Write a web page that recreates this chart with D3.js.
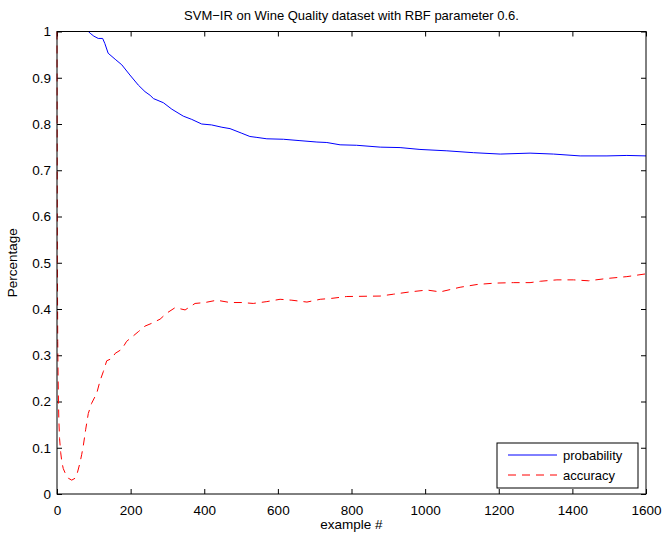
<!DOCTYPE html>
<html>
  <head>
    <meta charset="UTF-8">
    <title>SVM-IR on Wine Quality</title>
    <script src="https://d3js.org/d3.v7.min.js"></script>
    <style>
      body { margin: 0; background: #fff; }
      text { font-family: "Liberation Sans", Arial, sans-serif; }
    </style>
  </head>
  <body>
    <svg width="667" height="536"></svg>
    <script>
      // data: [example #, value]
      var probability = [
        [0, 1], [85, 1], [92, 0.995], [100, 0.99], [112, 0.985], [124, 0.985], [130, 0.974],
        [139, 0.953], [158, 0.94], [176, 0.928], [198, 0.906], [221, 0.884], [239, 0.87],
        [253, 0.862], [262, 0.855], [289, 0.846], [312, 0.832], [343, 0.817], [366, 0.81],
        [393, 0.8], [420, 0.798], [448, 0.793], [470, 0.79], [502, 0.78], [524, 0.773],
        [543, 0.771], [570, 0.768], [615, 0.767], [660, 0.764], [706, 0.761], [733, 0.76],
        [769, 0.755], [814, 0.754], [878, 0.75], [932, 0.749], [986, 0.745], [1059, 0.742],
        [1131, 0.738], [1204, 0.735], [1285, 0.737], [1349, 0.735], [1421, 0.731],
        [1494, 0.731], [1548, 0.732], [1600, 0.731]
      ];
      var accuracy = [
        [0, 1], [1, 0.5], [2, 0.33], [3, 0.25], [4, 0.2], [5, 0.16], [7, 0.12], [10, 0.09],
        [13, 0.07], [17, 0.055], [24, 0.042], [31, 0.034], [40, 0.03], [49, 0.034],
        [55, 0.045], [62, 0.066], [67, 0.085], [71, 0.102], [78, 0.14], [85, 0.174],
        [94, 0.196], [108, 0.218], [117, 0.245], [126, 0.265], [135, 0.288], [149, 0.293],
        [158, 0.304], [176, 0.313], [189, 0.33], [203, 0.339], [221, 0.351], [239, 0.363],
        [257, 0.369], [280, 0.378], [298, 0.391], [321, 0.403], [348, 0.398], [375, 0.412],
        [402, 0.414], [434, 0.419], [470, 0.414], [502, 0.414], [533, 0.412], [570, 0.416],
        [606, 0.421], [638, 0.419], [679, 0.415], [715, 0.421], [746, 0.423], [787, 0.427],
        [878, 0.428], [914, 0.432], [959, 0.437], [1005, 0.441], [1041, 0.437],
        [1095, 0.447], [1141, 0.453], [1190, 0.456], [1240, 0.457], [1285, 0.457],
        [1313, 0.46], [1358, 0.463], [1403, 0.463], [1444, 0.461], [1494, 0.466],
        [1548, 0.47], [1600, 0.476]
      ];
      var xTicks = [0, 200, 400, 600, 800, 1000, 1200, 1400, 1600];
      var yTicks = [0, 0.1, 0.2, 0.3, 0.4, 0.5, 0.6, 0.7, 0.8, 0.9, 1];
      var yTickLabels = ["0", "0.1", "0.2", "0.3", "0.4", "0.5", "0.6", "0.7", "0.8", "0.9", "1"];

      var svg = d3.select("svg"),
          margin = {top: 31.5, right: 21, bottom: 42, left: 57},
          width = +svg.attr("width") - margin.left - margin.right,
          height = +svg.attr("height") - margin.top - margin.bottom,
          g = svg.append("g").attr("transform", "translate(" + margin.left + "," + margin.top + ")");

      var x = d3.scaleLinear().domain([0, 1600]).range([0, width]);
      var y = d3.scaleLinear().domain([0, 1]).range([height, 0]);

      // axes, ticks pointing inward on all four sides
      function styleAxis(sel) {
        sel.select(".domain").remove();
        sel.selectAll(".tick line").attr("stroke", "#000");
        sel.selectAll("text").attr("font-size", 13.5).attr("fill", "#000");
      }
      g.append("g").attr("transform", "translate(0," + height + ")")
          .call(d3.axisBottom(x).tickValues(xTicks).tickSize(-5).tickPadding(11)
            .tickFormat(d3.format("d")))
          .call(styleAxis);
      g.append("g")
          .call(d3.axisTop(x).tickValues(xTicks).tickSize(-5).tickFormat(""))
          .call(styleAxis);
      g.append("g")
          .call(d3.axisLeft(y).tickValues(yTicks).tickSize(-5).tickPadding(6)
            .tickFormat(function(d, i) { return yTickLabels[i]; }))
          .call(styleAxis);
      g.append("g").attr("transform", "translate(" + width + ",0)")
          .call(d3.axisRight(y).tickValues(yTicks).tickSize(-5).tickFormat(""))
          .call(styleAxis);

      var line = d3.line()
          .x(function(d) { return x(d[0]); })
          .y(function(d) { return y(d[1]); });

      g.append("path")
          .datum(probability)
          .attr("fill", "none")
          .attr("stroke", "#0000ff")
          .attr("stroke-width", 1)
          .attr("d", line);

      g.append("path")
          .datum(accuracy)
          .attr("fill", "none")
          .attr("stroke", "#ff0000")
          .attr("stroke-width", 1)
          .attr("stroke-dasharray", "8,6")
          .attr("d", line);

      // frame
      g.append("rect")
          .attr("width", width)
          .attr("height", height)
          .attr("fill", "none")
          .attr("stroke", "#000")
          .attr("stroke-width", 1);

      // title and labels
      svg.append("text")
          .attr("x", margin.left + width / 2)
          .attr("y", 20)
          .attr("text-anchor", "middle")
          .attr("font-size", 13)
          .text("SVM\u2212IR on Wine Quality dataset with RBF parameter 0.6.");
      svg.append("text")
          .attr("x", margin.left + width / 2)
          .attr("y", 529)
          .attr("text-anchor", "middle")
          .attr("font-size", 13.5)
          .text("example #");
      svg.append("text")
          .attr("transform", "translate(17," + (margin.top + height / 2) + ") rotate(-90)")
          .attr("text-anchor", "middle")
          .attr("font-size", 13.5)
          .text("Percentage");

      // legend
      var legend = svg.append("g").attr("transform", "translate(497,443)");
      legend.append("rect")
          .attr("width", 141).attr("height", 45)
          .attr("fill", "#fff").attr("stroke", "#000");
      var items = [
        {name: "probability", color: "#0000ff", dash: null},
        {name: "accuracy", color: "#ff0000", dash: "8,6"}
      ];
      items.forEach(function(it, i) {
        var ly = 12 + i * 20;
        legend.append("line")
            .attr("x1", 11).attr("x2", 60).attr("y1", ly).attr("y2", ly)
            .attr("stroke", it.color).attr("stroke-dasharray", it.dash);
        legend.append("text")
            .attr("x", 66).attr("y", ly + 5)
            .attr("font-size", 13)
            .text(it.name);
      });
    </script>
  </body>
</html>
